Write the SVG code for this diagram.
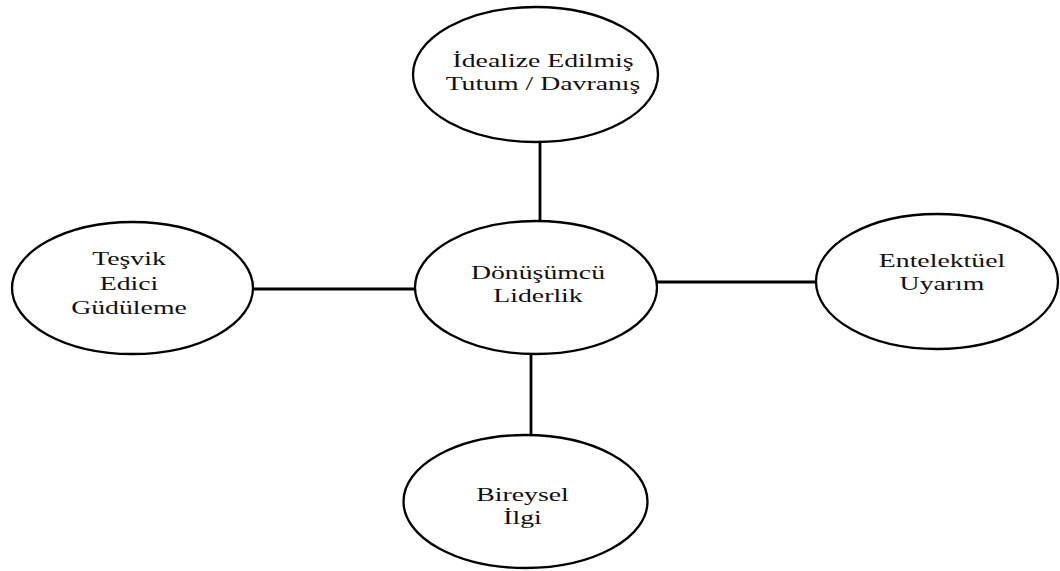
<svg xmlns="http://www.w3.org/2000/svg" width="1060" height="571" viewBox="0 0 1060 571">
  <style>
    .node ellipse { fill: #ffffff; stroke: #000000; stroke-width: 2.3; }
    .node text { font-family: "Liberation Serif", "Times New Roman", serif; font-size: 18.5px; fill: #111111; text-anchor: middle; }
    .links line { stroke: #000000; stroke-width: 2.8; }
  </style>
  <rect width="1060" height="571" fill="#ffffff"/>

  <!-- connectors from the central node to the four dimensions -->
  <g id="connectors" class="links">
    <line x1="540" y1="141" x2="540" y2="222"/>
    <line x1="252" y1="289" x2="416" y2="289"/>
    <line x1="656" y1="282" x2="817" y2="282"/>
    <line x1="531" y1="353" x2="531" y2="436"/>
  </g>

  <g id="node-idealize" class="node">
    <ellipse cx="535.5" cy="74.5" rx="122.5" ry="67.5"/>
    <text transform="translate(543,66.5) scale(1.5,1)">İdealize Edilmiş</text>
    <text transform="translate(543,90) scale(1.5,1)">Tutum / Davranış</text>
  </g>

  <g id="node-donusumcu" class="node">
    <ellipse cx="536" cy="287.5" rx="121" ry="66.5"/>
    <text transform="translate(538,279) scale(1.5,1)">Dönüşümcü</text>
    <text transform="translate(538,302) scale(1.5,1)">Liderlik</text>
  </g>

  <g id="node-tesvik" class="node">
    <ellipse cx="132.5" cy="288" rx="120.5" ry="66"/>
    <text transform="translate(129,265) scale(1.5,1)">Teşvik</text>
    <text transform="translate(129,290) scale(1.5,1)">Edici</text>
    <text transform="translate(129,314) scale(1.5,1)">Güdüleme</text>
  </g>

  <g id="node-entelektuel" class="node">
    <ellipse cx="937" cy="281.5" rx="121" ry="67.5"/>
    <text transform="translate(942,267) scale(1.5,1)">Entelektüel</text>
    <text transform="translate(942,290) scale(1.5,1)">Uyarım</text>
  </g>

  <g id="node-bireysel" class="node">
    <ellipse cx="525.5" cy="501.5" rx="122" ry="66.5"/>
    <text transform="translate(522.5,501) scale(1.5,1)">Bireysel</text>
    <text transform="translate(522.5,524) scale(1.5,1)">İlgi</text>
  </g>
</svg>
